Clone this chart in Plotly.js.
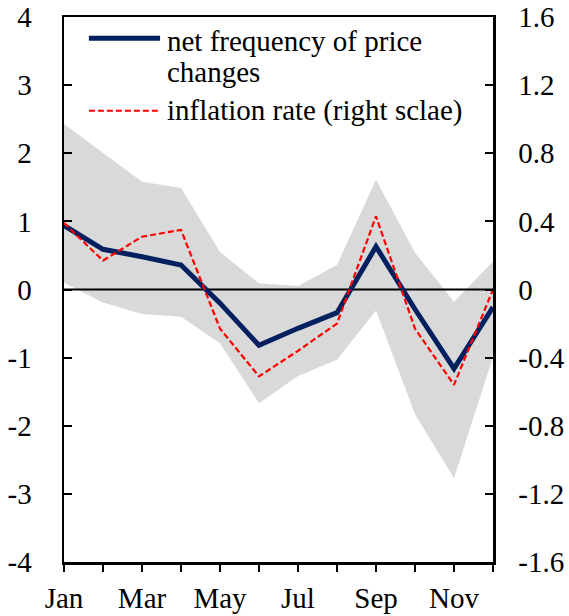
<!DOCTYPE html>
<html>
<head>
<meta charset="utf-8">
<script src="https://cdn.plot.ly/plotly-3.0.1.min.js"></script>
<style>html,body{margin:0;padding:0;background:#fff;}#chart{width:569px;height:616px;}</style>
</head>
<body>
<div id="chart"></div>
<script>
const months = ['Jan','Feb','Mar','Apr','May','Jun','Jul','Aug','Sep','Oct','Nov','Dec'];
const monthLabels = ['Jan','','Mar','','May','','Jul','','Sep','','Nov',''];
const netFrequency = [0.94, 0.59, 0.48, 0.36, -0.20, -0.82, -0.57, -0.34, 0.63, -0.29, -1.16, -0.26];
const inflationRate = [0.39, 0.17, 0.31, 0.35, -0.23, -0.51, -0.36, -0.20, 0.43, -0.23, -0.56, 0.0];
const bandUpper = [2.43, 2.00, 1.58, 1.49, 0.55, 0.09, 0.05, 0.36, 1.61, 0.54, -0.18, 0.41];
const bandLower = [0.10, -0.19, -0.36, -0.40, -0.79, -1.67, -1.27, -1.03, -0.31, -1.83, -2.77, -0.99];
const zeroLine = months.map(() => 0);
const leftTicks = [-4, -3, -2, -1, 0, 1, 2, 3, 4];
const leftTickText = ['-4', '-3', '-2', '-1', '0', '1', '2', '3', '4'];
const rightTicks = [-1.6, -1.2, -0.8, -0.4, 0, 0.4, 0.8, 1.2, 1.6];
const rightTickText = ['-1.6', '-1.2', '-0.8', '-0.4', '0', '0.4', '0.8', '1.2', '1.6'];
const seriesNames = ['net frequency of price<br>changes', 'inflation rate (right sclae)'];

const navy = '#002060';
function mkFont() { return {family: 'Liberation Serif', size: 29, color: '#000'}; }

const traces = [
  {x: months, y: bandLower, type: 'scatter', mode: 'lines', line: {width: 0, color: '#d9d9d9'}, showlegend: false, hoverinfo: 'skip'},
  {x: months, y: bandUpper, type: 'scatter', mode: 'lines', fill: 'tonexty', fillcolor: '#d9d9d9', line: {width: 0, color: '#d9d9d9'}, showlegend: false, hoverinfo: 'skip'},
  {x: months, y: zeroLine, type: 'scatter', mode: 'lines', line: {width: 2, color: '#000'}, showlegend: false, hoverinfo: 'skip'},
  {x: months, y: netFrequency, type: 'scatter', mode: 'lines', name: seriesNames[0], line: {width: 5, color: navy}, showlegend: false},
  {x: months, y: inflationRate, type: 'scatter', mode: 'lines', name: seriesNames[1], yaxis: 'y2', line: {width: 2.2, color: '#ff0000', dash: '6px,3px'}, showlegend: false}
];

function axisCommon() {
  return {showgrid: false, zeroline: false, showline: true, linecolor: '#000', linewidth: 2.5, tickcolor: '#000', tickwidth: 2, tickfont: mkFont(), automargin: false};
}

const nameLines = seriesNames[0].split('<br>');

const layout = {
  width: 569, height: 616,
  margin: {l: 64, r: 76, t: 17, b: 54, pad: 0},
  paper_bgcolor: '#fff', plot_bgcolor: '#fff',
  font: mkFont(),
  showlegend: false,
  xaxis: Object.assign(axisCommon(), {
    type: 'category', range: [0, 11], tickmode: 'array', tickvals: months, ticktext: monthLabels,
    ticks: 'outside', ticklen: 7, mirror: true, ticklabelstandoff: 2
  }),
  yaxis: Object.assign(axisCommon(), {
    range: [-4, 4], tickmode: 'array', tickvals: leftTicks, ticktext: leftTickText,
    ticks: 'inside', ticklen: 8, ticklabelstandoff: 24
  }),
  yaxis2: Object.assign(axisCommon(), {
    overlaying: 'y', side: 'right', range: [-1.6, 1.6], tickmode: 'array', tickvals: rightTicks, ticktext: rightTickText,
    ticks: 'inside', ticklen: 8, ticklabelstandoff: 17
  }),
  shapes: [
    {type: 'line', xref: 'paper', yref: 'paper', x0: 0.058, x1: 0.224, y0: 0.961, y1: 0.961, line: {color: navy, width: 5}},
    {type: 'line', xref: 'paper', yref: 'paper', x0: 0.058, x1: 0.224, y0: 0.828, y1: 0.828, line: {color: '#ff0000', width: 2.2, dash: '6px,3px'}}
  ],
  annotations: [
    {xref: 'paper', yref: 'paper', x: 0.236, y: 0.956, xanchor: 'left', yanchor: 'middle', align: 'left', showarrow: false, text: nameLines[0], font: mkFont()},
    {xref: 'paper', yref: 'paper', x: 0.236, y: 0.899, xanchor: 'left', yanchor: 'middle', align: 'left', showarrow: false, text: nameLines[1], font: mkFont()},
    {xref: 'paper', yref: 'paper', x: 0.236, y: 0.829, xanchor: 'left', yanchor: 'middle', align: 'left', showarrow: false, text: seriesNames[1], font: mkFont()}
  ]
};

Plotly.newPlot('chart', traces, layout, {staticPlot: true, displayModeBar: false});
</script>
</body>
</html>
